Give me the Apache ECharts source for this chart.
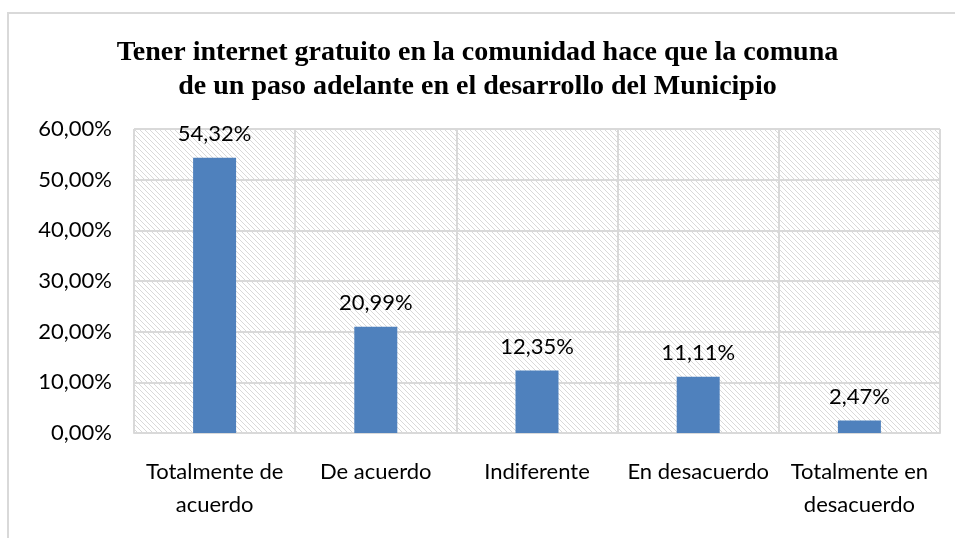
<!DOCTYPE html>
<html lang="es">

<head>
  <meta charset="UTF-8">
  <script src="https://cdnjs.cloudflare.com/ajax/libs/echarts/6.0.0/echarts.min.js"></script>
  <title>Internet gratuito</title>
  <style>
    html,
    body,
    main {
      height: 100%;
      width: 100%;
      padding: 0;
      margin: 0;
      background: #fff;
    }
  </style>
</head>

<body>
  <main></main>
</body>
<script>
  const titleText = 'Tener internet gratuito en la comunidad hace que la comuna\nde un paso adelante en el desarrollo del Municipio'
  const categories = ['Totalmente de\nacuerdo', 'De acuerdo', 'Indiferente', 'En desacuerdo', 'Totalmente en\ndesacuerdo']
  const values = [54.32, 20.99, 12.35, 11.11, 2.47]
  const yTicks = { min: 0, max: 60, interval: 10 }

  // hatch pattern for the plot background
  function hatch() {
    const c = document.createElement('canvas')
    c.width = 5
    c.height = 5
    const ctx = c.getContext('2d')
    ctx.fillStyle = '#fff'
    ctx.fillRect(0, 0, 5, 5)
    ctx.strokeStyle = '#d9d9d9'
    ctx.lineWidth = 1
    for (const off of [-5, 0, 5]) {
      ctx.beginPath()
      ctx.moveTo(off - 1, -1)
      ctx.lineTo(off + 6, 6)
      ctx.stroke()
    }
    return c
  }

  const pct = (v) => v.toFixed(2).replace('.', ',') + '%'
  const font = 'Lato'

  const ins = echarts.init(document.getElementsByTagName('main')[0])
  ins.setOption({
    animation: false,
    title: {
      text: titleText,
      left: 'center',
      top: 31,
      textStyle: {
        fontFamily: 'Liberation Serif',
        fontWeight: 'bold',
        fontSize: 28,
        lineHeight: 34,
        color: '#000'
      }
    },
    graphic: [{
      type: 'rect',
      shape: { x: 8, y: 13, width: 1000, height: 600 },
      style: { fill: 'none', stroke: '#d9d9d9', lineWidth: 2 },
      silent: true,
      z: -10
    }],
    grid: {
      left: 134,
      right: 15,
      top: 129,
      bottom: 105,
      show: true,
      borderWidth: 0,
      backgroundColor: { image: hatch(), repeat: 'repeat' }
    },
    xAxis: {
      type: 'category',
      data: categories,
      axisLine: { lineStyle: { color: '#d9d9d9', width: 2 } },
      axisTick: { show: false },
      splitLine: { show: true, lineStyle: { color: '#d9d9d9', width: 2 } },
      axisLabel: {
        interval: 0,
        margin: 22,
        fontFamily: font,
        fontSize: 22,
        lineHeight: 33,
        color: '#000'
      }
    },
    yAxis: {
      type: 'value',
      min: yTicks.min,
      max: yTicks.max,
      interval: yTicks.interval,
      axisLine: { show: false },
      axisTick: { show: false },
      splitLine: { lineStyle: { color: '#d9d9d9', width: 2 } },
      axisLabel: {
        margin: 22,
        fontFamily: font,
        fontSize: 22,
        color: '#000',
        formatter: (v) => pct(v)
      }
    },
    series: [{
      type: 'bar',
      data: values,
      barWidth: 43,
      itemStyle: { color: '#4f81bd' },
      label: {
        show: true,
        position: 'top',
        distance: 13,
        fontFamily: font,
        fontSize: 22,
        color: '#000',
        formatter: (p) => pct(p.value)
      }
    }]
  })
</script>

</html>
